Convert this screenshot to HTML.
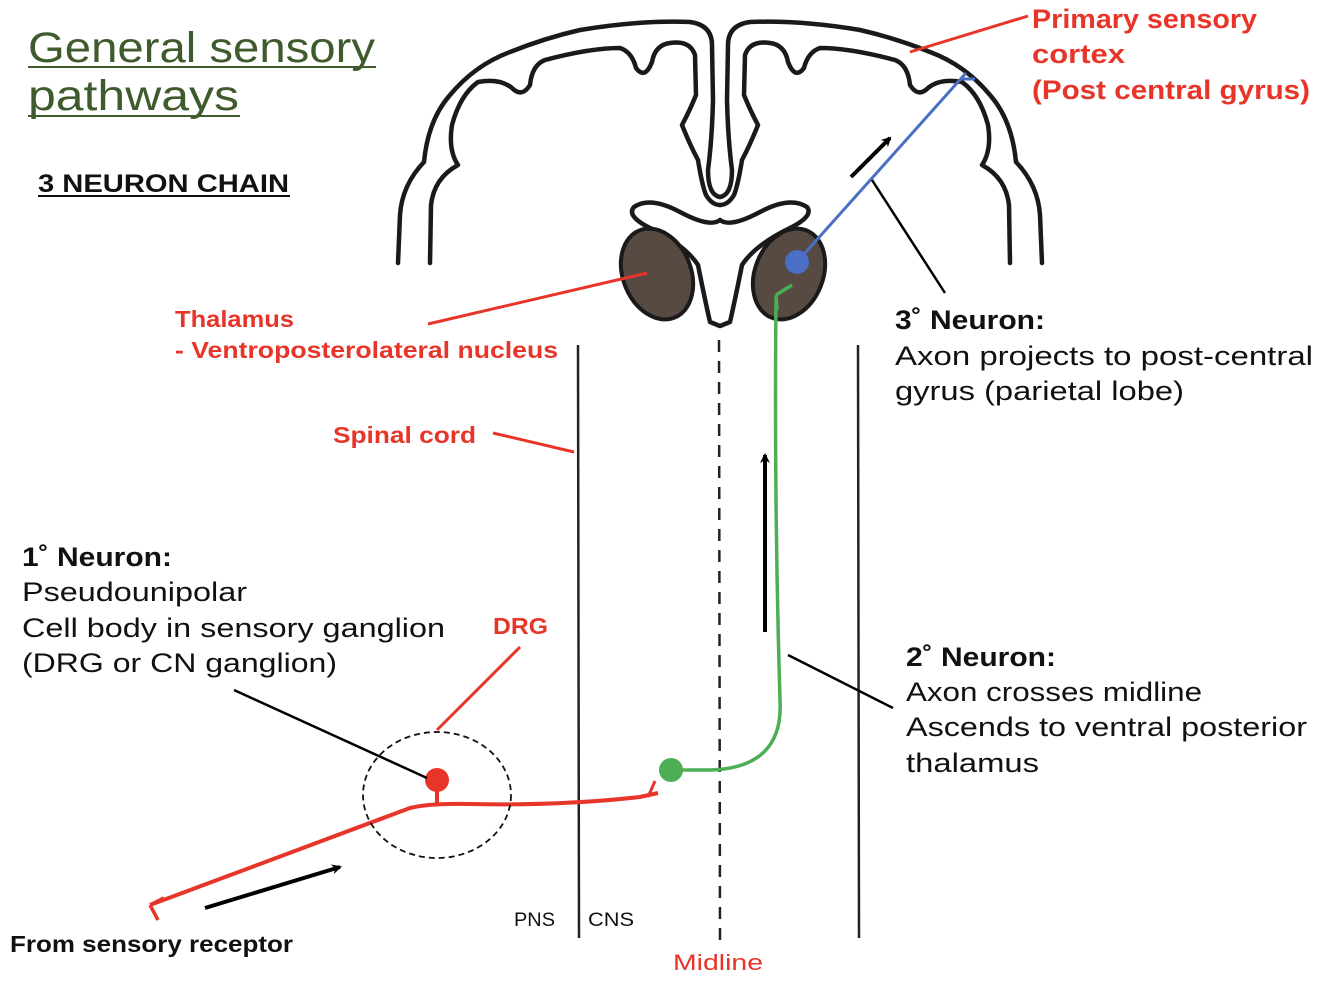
<!DOCTYPE html>
<html><head><meta charset="utf-8"><style>
html,body{margin:0;padding:0;background:#fff;}
svg{display:block;}
text{font-family:"Liberation Sans",sans-serif;}
</style></head><body>
<svg width="1334" height="983" viewBox="0 0 1334 983" xmlns="http://www.w3.org/2000/svg">
<defs>
<marker id="ah" markerWidth="10" markerHeight="10" refX="8" refY="5" orient="auto" markerUnits="userSpaceOnUse"><path d="M0,0 L10,5 L0,10 L3,5 Z" fill="#000"/></marker>
<g id="hemi" fill="none" stroke="#1a1a1a" stroke-width="4.5" stroke-linecap="round" stroke-linejoin="round">
<path d="M398,263 L400,215 Q402,185 424,162 Q428,120 450,95 Q475,65 510,52 Q545,38 580,30 Q640,20 690,22 Q712,25 712,45 L713,100 Q712,140 708,170 Q708,195 720,197"/>
<path d="M430,263 L431,205 Q434,178 458,165 Q448,150 452,125 Q460,95 478,82 Q500,78 512,88 Q522,98 530,85 Q532,65 545,60 Q590,48 620,48 Q632,52 636,68 Q645,80 652,62 Q655,45 670,43 Q690,40 695,55 L696,95 Q690,110 682,125 Q690,145 698,160 Q702,185 706,195 Q712,205 720,205"/>
</g>
</defs>
<!-- brain -->
<use href="#hemi"/>
<use href="#hemi" transform="translate(1440,0) scale(-1,1)"/>
<path d="M634,207 Q650,196 680,212 Q710,228 720,220 Q730,228 760,212 Q790,196 807,207 Q814,216 790,228 Q755,245 742,265 Q735,300 730,322 L720,326 L710,322 Q705,300 698,265 Q685,245 650,228 Q626,216 634,207 Z" fill="none" stroke="#1a1a1a" stroke-width="4.5" stroke-linejoin="round"/>
<ellipse cx="657" cy="274" rx="34" ry="47" transform="rotate(-22 657 274)" fill="#574a42" stroke="#1a1a1a" stroke-width="4"/>
<ellipse cx="789" cy="274" rx="34" ry="47" transform="rotate(22 789 274)" fill="#574a42" stroke="#1a1a1a" stroke-width="4"/>
<!-- spinal cord lines -->
<line x1="578" y1="345" x2="579" y2="938" stroke="#222" stroke-width="2.5"/>
<line x1="858" y1="345" x2="859" y2="938" stroke="#222" stroke-width="2.5"/>
<line x1="719" y1="340" x2="720" y2="940" stroke="#222" stroke-width="2.5" stroke-dasharray="12,9"/>
<!-- blue 3rd neuron -->
<line x1="797" y1="262" x2="966" y2="73" stroke="#4a6fc4" stroke-width="3"/>
<line x1="960" y1="79" x2="975" y2="79" stroke="#4a6fc4" stroke-width="3"/>
<circle cx="797" cy="262" r="12" fill="#4a6fc4"/>
<!-- green 2nd neuron -->
<path d="M777,310 L776,295 M776,295 L792,285 M776,300 Q774,500 780,700 Q784,768 710,770 L671,770" fill="none" stroke="#4caf55" stroke-width="3.5"/>
<circle cx="671" cy="770" r="12" fill="#4caf55"/>
<!-- red 1st neuron -->
<path d="M150,905 L410,808 Q430,803 470,804 Q560,806 640,797 L658,793" fill="none" stroke="#e8352a" stroke-width="4"/>
<path d="M150,905 L158,920 M152,904 L164,898" stroke="#e8352a" stroke-width="3.5"/>
<path d="M648,797 L655,781" stroke="#e8352a" stroke-width="3"/>
<line x1="437" y1="782" x2="437" y2="806" stroke="#e8352a" stroke-width="4"/>
<circle cx="437" cy="780" r="12" fill="#e8352a"/>
<ellipse cx="437" cy="795" rx="74" ry="63" fill="none" stroke="#111" stroke-width="1.8" stroke-dasharray="6,4"/>
<!-- black pointer lines -->
<line x1="234" y1="690" x2="427" y2="778" stroke="#000" stroke-width="2.5"/>
<line x1="872" y1="180" x2="945" y2="293" stroke="#000" stroke-width="2.5"/>
<line x1="788" y1="655" x2="893" y2="708" stroke="#000" stroke-width="2.5"/>
<!-- arrows -->
<line x1="851" y1="177" x2="890" y2="138" stroke="#000" stroke-width="4" marker-end="url(#ah)"/>
<line x1="765" y1="632" x2="765" y2="455" stroke="#000" stroke-width="4" marker-end="url(#ah)"/>
<line x1="205" y1="908" x2="340" y2="867" stroke="#000" stroke-width="4" marker-end="url(#ah)"/>
<!-- red pointer lines -->
<line x1="910" y1="52" x2="1028" y2="16" stroke="#e8352a" stroke-width="3"/>
<line x1="428" y1="324" x2="647" y2="273" stroke="#e8352a" stroke-width="3"/>
<line x1="493" y1="433" x2="574" y2="452" stroke="#e8352a" stroke-width="3"/>
<line x1="437" y1="730" x2="520" y2="647" stroke="#e8352a" stroke-width="3"/>
<!-- title -->
<text x="28" y="62" font-size="43" fill="#3f5a2c" textLength="347" lengthAdjust="spacingAndGlyphs">General sensory</text>
<line x1="28" y1="67" x2="376" y2="67" stroke="#3f5a2c" stroke-width="2"/>
<text x="28" y="110" font-size="43" fill="#3f5a2c" textLength="211" lengthAdjust="spacingAndGlyphs">pathways</text>
<line x1="28" y1="116" x2="240" y2="116" stroke="#3f5a2c" stroke-width="2"/>
<text x="38" y="192" font-size="25" font-weight="bold" fill="#111" textLength="251" lengthAdjust="spacingAndGlyphs">3 NEURON CHAIN</text>
<line x1="38" y1="196" x2="290" y2="196" stroke="#111" stroke-width="2"/>
<!-- red labels -->
<g fill="#e8352a" font-weight="bold">
<text x="1032" y="28" font-size="27" textLength="225" lengthAdjust="spacingAndGlyphs">Primary sensory</text>
<text x="1032" y="63" font-size="27" textLength="93" lengthAdjust="spacingAndGlyphs">cortex</text>
<text x="1032" y="99" font-size="27" textLength="278" lengthAdjust="spacingAndGlyphs">(Post central gyrus)</text>
<text x="175" y="327" font-size="23" textLength="119" lengthAdjust="spacingAndGlyphs">Thalamus</text>
<text x="175" y="358" font-size="23" textLength="383" lengthAdjust="spacingAndGlyphs">- Ventroposterolateral nucleus</text>
<text x="333" y="443" font-size="23" textLength="143" lengthAdjust="spacingAndGlyphs">Spinal cord</text>
<text x="493" y="634" font-size="23" textLength="55" lengthAdjust="spacingAndGlyphs">DRG</text>
</g>
<text x="673" y="970" font-size="22" fill="#e8352a" textLength="90" lengthAdjust="spacingAndGlyphs">Midline</text>
<!-- black labels -->
<g fill="#111">
<text x="895" y="329" font-size="27" font-weight="bold" textLength="150" lengthAdjust="spacingAndGlyphs">3˚ Neuron:</text>
<text x="895" y="365" font-size="27" textLength="418" lengthAdjust="spacingAndGlyphs">Axon projects to post-central</text>
<text x="895" y="400" font-size="27" textLength="289" lengthAdjust="spacingAndGlyphs">gyrus (parietal lobe)</text>
<text x="22" y="566" font-size="27" font-weight="bold" textLength="150" lengthAdjust="spacingAndGlyphs">1˚ Neuron:</text>
<text x="22" y="601" font-size="27" textLength="225" lengthAdjust="spacingAndGlyphs">Pseudounipolar</text>
<text x="22" y="637" font-size="27" textLength="423" lengthAdjust="spacingAndGlyphs">Cell body in sensory ganglion</text>
<text x="22" y="672" font-size="27" textLength="315" lengthAdjust="spacingAndGlyphs">(DRG or CN ganglion)</text>
<text x="906" y="666" font-size="27" font-weight="bold" textLength="150" lengthAdjust="spacingAndGlyphs">2˚ Neuron:</text>
<text x="906" y="701" font-size="27" textLength="296" lengthAdjust="spacingAndGlyphs">Axon crosses midline</text>
<text x="906" y="736" font-size="27" textLength="401" lengthAdjust="spacingAndGlyphs">Ascends to ventral posterior</text>
<text x="906" y="772" font-size="27" textLength="133" lengthAdjust="spacingAndGlyphs">thalamus</text>
<text x="10" y="952" font-size="23" font-weight="bold" textLength="283" lengthAdjust="spacingAndGlyphs">From sensory receptor</text>
<text x="514" y="926" font-size="19" textLength="41" lengthAdjust="spacingAndGlyphs">PNS</text>
<text x="588" y="926" font-size="19" textLength="46" lengthAdjust="spacingAndGlyphs">CNS</text>
</g>
</svg>
</body></html>
